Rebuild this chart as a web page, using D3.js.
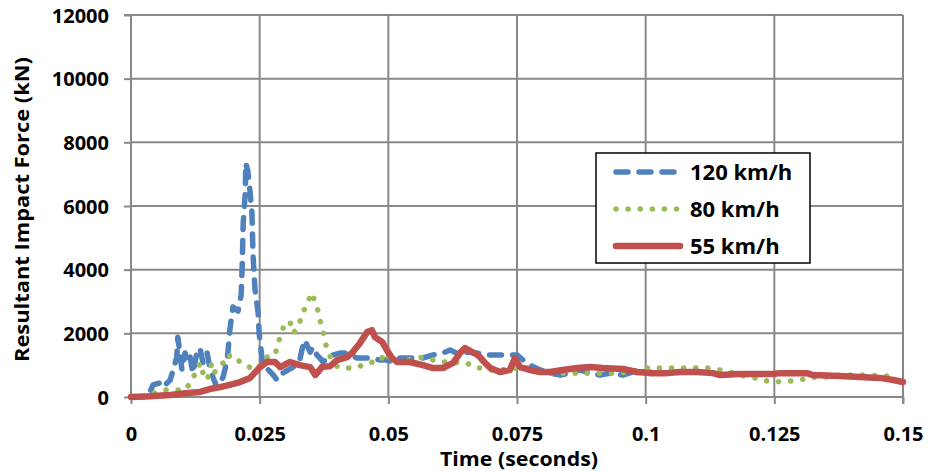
<!DOCTYPE html>
<html><head><meta charset="utf-8">
<script src="https://cdn.jsdelivr.net/npm/d3@7"></script>
<style>
html,body{margin:0;padding:0;background:#fff;}
svg{display:block;font-family:"Open Sans","Noto Sans",sans-serif;font-weight:bold;}
</style></head>
<body><svg id="c" width="931" height="472"></svg>
<script>
// ---- data ----
const xTicks = [0, 0.025, 0.05, 0.075, 0.1, 0.125, 0.15];
const xTickLabels = ["0", "0.025", "0.05", "0.075", "0.1", "0.125", "0.15"];
const yTicks = [0, 2000, 4000, 6000, 8000, 10000, 12000];
const yTickLabels = ["0", "2000", "4000", "6000", "8000", "10000", "12000"];
const seriesNames = ["120 km/h", "80 km/h", "55 km/h"];

const t120 = [0,0.0027,0.0037,0.0043,0.0056,0.0062,0.0076,0.0082,0.0089,0.0091,0.0095,0.0099,0.0105,0.0111,0.0115,0.0120,0.0128,0.0134,0.0140,0.0148,0.0153,0.0159,0.0167,0.0173,0.0179,0.0187,0.0192,0.0198,0.0208,0.0214,0.0216,0.0218,0.0222,0.0223,0.0227,0.0231,0.0235,0.0237,0.0241,0.0247,0.0249,0.0251,0.0255,0.0264,0.0276,0.0284,0.0295,0.0315,0.0328,0.0332,0.0338,0.0342,0.0348,0.0354,0.0361,0.0367,0.0373,0.0383,0.0392,0.0406,0.0416,0.0426,0.0439,0.0451,0.0464,0.0484,0.0497,0.0509,0.0523,0.0542,0.0567,0.0587,0.0606,0.0620,0.0633,0.0653,0.0672,0.0692,0.0711,0.0731,0.0750,0.0762,0.0775,0.0795,0.0814,0.0834,0.0853,0.0872,0.0892,0.0911,0.0931,0.0956,0.0975,0.1003,0.1014,0.1047];
const v120 = [0,0,160,380,440,310,530,850,1250,1880,1380,850,1380,1070,1250,750,1380,1540,1070,1380,940,630,310,440,630,1160,2100,2830,2700,3200,4080,5460,6400,7350,7100,6500,5780,4500,3360,2640,2010,1700,1160,900,700,530,750,940,1160,1480,1790,1630,1410,1570,1320,1225,1100,1250,1320,1380,1380,1320,1225,1225,1225,1160,1160,1100,1225,1225,1225,1320,1380,1475,1380,1410,1380,1320,1320,1320,1320,1160,1000,850,750,690,750,850,750,690,750,690,785,800,760,750];

const t80 = [0,0.0027,0.0051,0.0062,0.0082,0.0105,0.0115,0.0120,0.0128,0.0134,0.0140,0.0148,0.0157,0.0163,0.0169,0.0179,0.0188,0.0192,0.0202,0.0212,0.0225,0.0237,0.0247,0.0256,0.0264,0.0280,0.0286,0.0293,0.0299,0.0309,0.0315,0.0324,0.0334,0.0342,0.0352,0.0358,0.0363,0.0367,0.0373,0.0377,0.0383,0.0392,0.0402,0.0416,0.0429,0.0441,0.0455,0.0470,0.0484,0.0494,0.0509,0.0567,0.0587,0.0600,0.0616,0.0653,0.0665,0.0678,0.0698,0.0717,0.0750,0.0775,0.0795,0.0814,0.0839,0.0867,0.0892,0.0917,0.0944,0.0970,0.1003,0.1028,0.1053,0.1080,0.1100,0.1119,0.1135,0.1164,0.1203,0.1218,0.1236,0.1247,0.1275,0.1286,0.1309,0.1319,0.1339,0.1377,0.1403,0.1430,0.1455,0.1475,0.1488];
const v80 = [0,0,160,220,220,220,440,630,750,1070,750,530,1070,785,940,1070,1070,1320,1225,1100,1000,850,910,1100,1250,1320,1700,2040,2320,2360,2010,2170,2640,2950,3270,2950,2730,2420,2100,1730,1410,1100,940,910,910,940,1040,1100,1130,1410,1070,1250,1160,1100,1100,1070,940,910,850,850,910,910,785,750,750,750,750,750,750,785,910,910,910,910,910,910,880,785,600,600,500,470,500,500,565,630,600,690,690,690,660,660,630];

const t55 = [0,0.0037,0.0076,0.0105,0.0134,0.0153,0.0173,0.0192,0.0212,0.0231,0.0251,0.0264,0.0280,0.0290,0.0309,0.0328,0.0348,0.0358,0.0371,0.0387,0.0400,0.0420,0.0431,0.0445,0.0459,0.0468,0.0474,0.0488,0.0497,0.0507,0.0517,0.0523,0.0542,0.0567,0.0587,0.0606,0.0626,0.0639,0.0649,0.0663,0.0674,0.0688,0.0698,0.0717,0.0736,0.0746,0.0756,0.0775,0.0795,0.0814,0.0839,0.0867,0.0892,0.0917,0.0956,0.0983,0.1008,0.1041,0.1067,0.1100,0.1131,0.1144,0.1183,0.1247,0.1261,0.1313,0.1325,0.1377,0.1416,0.1455,0.1481,0.1500];
const v55 = [0,20,60,120,160,250,310,380,470,600,940,1100,1100,940,1100,1000,940,690,940,970,1160,1250,1410,1700,2040,2100,1880,1730,1480,1225,1100,1100,1100,1000,910,910,1070,1380,1540,1410,1320,1070,910,785,850,1225,940,850,785,785,850,910,940,910,880,785,750,750,785,785,750,690,720,720,750,750,690,660,630,600,535,470];

const colors = ["#4F81BD", "#9BBB59", "#C0504D"];

// ---- chart ----
const svg = d3.select("#c");
const L = 131, R = 903, T = 15, B = 397;
const x = d3.scaleLinear().domain([0, 0.15]).range([L, R]);
const y = d3.scaleLinear().domain([0, 12000]).range([B, T]);
const grid = "#888888";

// gridlines
svg.append("g").selectAll("line").data(yTicks.filter(d => d > 0)).join("line")
  .attr("x1", L).attr("x2", R).attr("y1", d => y(d)).attr("y2", d => y(d))
  .attr("stroke", grid).attr("stroke-width", 2);
svg.append("g").selectAll("line").data(xTicks.filter(d => d > 0)).join("line")
  .attr("y1", T).attr("y2", B).attr("x1", d => x(d)).attr("x2", d => x(d))
  .attr("stroke", grid).attr("stroke-width", 2);

// axes
const yAxis = d3.axisLeft(y).tickValues(yTicks).tickFormat((d, i) => yTickLabels[i]).tickSize(7).tickPadding(15);
const xAxis = d3.axisBottom(x).tickValues(xTicks).tickFormat((d, i) => xTickLabels[i]).tickSize(7).tickPadding(23);
const gy = svg.append("g").attr("transform", `translate(${L},0)`).call(yAxis);
const gx = svg.append("g").attr("transform", `translate(0,${B})`).call(xAxis);
[gy, gx].forEach(g => {
  g.select(".domain").attr("stroke", grid).attr("stroke-width", 2);
  g.selectAll(".tick line").attr("stroke", grid).attr("stroke-width", 2);
  g.selectAll(".tick text").attr("fill", "#000").attr("font-size", 20)
    .attr("font-family", "'Open Sans', sans-serif").attr("font-weight", "bold");
});
gy.select(".domain").attr("d", `M-7,${T}H0V${B}`);
gx.select(".domain").attr("d", `M${L},0H${R}V7`);
gy.selectAll(".tick text").attr("dy", "0.36em");

// titles
svg.append("text").attr("transform", `translate(29,${(57 + 362) / 2}) rotate(-90)`)
  .attr("text-anchor", "middle").attr("font-size", 19).attr("fill", "#000")
  .attr("textLength", 305).attr("lengthAdjust", "spacingAndGlyphs")
  .text("Resultant Impact Force (kN)");
svg.append("text").attr("x", 519).attr("y", 466)
  .attr("text-anchor", "middle").attr("font-size", 19).attr("fill", "#000")
  .attr("textLength", 158).attr("lengthAdjust", "spacingAndGlyphs")
  .text("Time (seconds)");

// series
const series = [
  { t: t120, v: v120, dash: "12 11", w: 5.5 },
  { t: t80, v: v80, dash: "0.1 12", w: 5.5 },
  { t: t55, v: v55, dash: null, w: 6.5 }
];
const line = d3.line().x(d => x(d[0])).y(d => y(d[1]));
series.forEach((s, i) => {
  const pts = s.t.map((tt, k) => [tt, s.v[k]]);
  svg.append("path").datum(pts).attr("d", line)
    .attr("fill", "none").attr("stroke", colors[i]).attr("stroke-width", s.w)
    .attr("stroke-linecap", "round").attr("stroke-linejoin", "round")
    .attr("stroke-dasharray", s.dash);
});

// legend
const lg = svg.append("g");
lg.append("rect").attr("x", 596).attr("y", 153).attr("width", 214).attr("height", 110)
  .attr("fill", "#fff").attr("stroke", "#000").attr("stroke-width", 1.5);
const rowsY = [172, 209, 246];
series.forEach((s, i) => {
  lg.append("line").attr("x1", 616).attr("x2", 680).attr("y1", rowsY[i]).attr("y2", rowsY[i])
    .attr("stroke", colors[i]).attr("stroke-width", s.w).attr("stroke-linecap", "round")
    .attr("stroke-dasharray", s.dash);
  lg.append("text").attr("x", 690).attr("y", rowsY[i]).attr("dy", "0.36em")
    .attr("font-size", 22).attr("fill", "#000").text(seriesNames[i]);
});
</script></body></html>
